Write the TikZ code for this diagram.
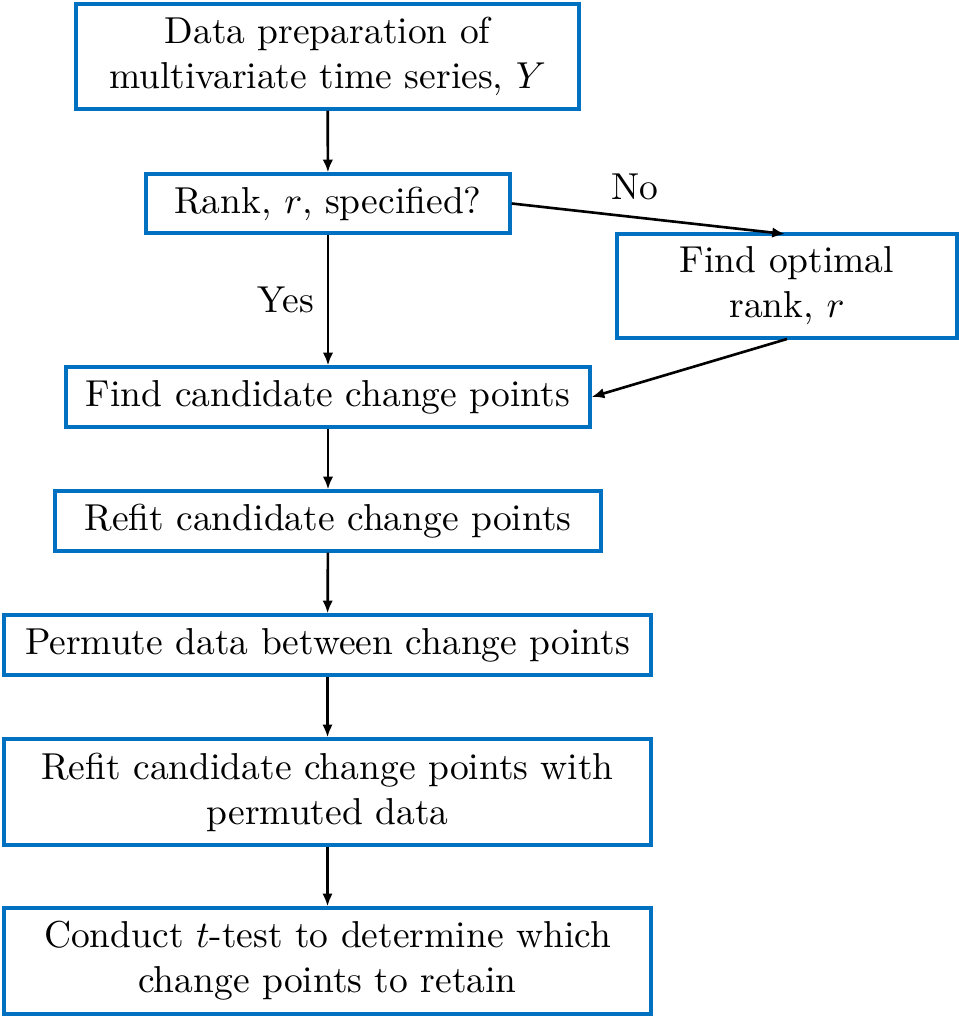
\documentclass[tikz,border=0pt]{standalone}
\usepackage{amsmath, amssymb}
\usetikzlibrary{positioning,arrows.meta}
\definecolor{boxblue}{HTML}{0070C0}

\begin{document}
\begin{tikzpicture}[x=0.2667pt, y=-0.2667pt, >=Latex,
    every node/.style={font=\normalsize},
    stepbox/.style={draw=boxblue, line width=0.9pt, inner sep=0pt, align=center, minimum height=16pt},
    flow/.style={-{Latex[length=3.4pt, width=2.8pt]}, line width=0.7pt}]
    \useasboundingbox (0,0) rectangle (959,1029);
    \node[stepbox, minimum width=134.1pt, minimum height=28pt] (prep) at (327.5,56.5) {Data preparation of\\multivariate time series, $Y$};
    \node[stepbox, minimum width=97.1pt, minimum height=15.7pt] (rank) at (328,203.5) {Rank, $r$, specified?};
    \node[stepbox, minimum width=90.7pt, minimum height=27.7pt] (optrank) at (787,286) {Find optimal\\rank, $r$};
    \node[stepbox, minimum width=139.7pt] (cand) at (328,397) {Find candidate change points};
    \node[stepbox, minimum width=145.6pt] (refit) at (328,521) {Refit candidate change points};
    \node[stepbox, minimum width=172.5pt] (perm) at (327.5,645) {Permute data between change points};
    \node[stepbox, minimum width=172.5pt, minimum height=28.3pt] (refitperm) at (327.5,792) {Refit candidate change points with\\permuted data};
    \node[stepbox, minimum width=172.5pt, minimum height=28.3pt] (ttest) at (327.5,961) {Conduct $t$-test to determine which\\change points to retain};
    \coordinate (optin) at (785,234);
    \coordinate (optout) at (787,339);
    \draw[flow] (prep) -- (rank);
    \draw[flow] (rank) -- node[left=0pt, pos=0.5] {Yes} (cand);
    \draw[flow] (rank.east) -- node[above=1pt, pos=0.45] {No} (optin);
    \draw[flow] (optout) -- (cand.east);
    \draw[flow] (cand) -- (refit);
    \draw[flow] (refit) -- (perm);
    \draw[flow] (perm) -- (refitperm);
    \draw[flow] (refitperm) -- (ttest);
\end{tikzpicture}
\end{document}
